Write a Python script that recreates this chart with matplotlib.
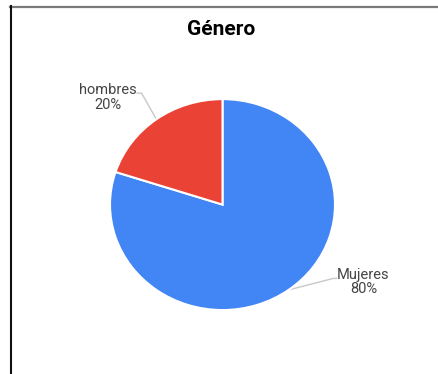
import numpy as np
import matplotlib.pyplot as plt
from matplotlib.lines import Line2D

# data
labels = ['Mujeres', 'hombres']
shares = [80, 20]
colors = ['#4285F4', '#EA4335']
title = 'Género'

# label placement (data coords of the pie axes): elbow point, text anchor, alignment
label_pos = {
    'Mujeres': dict(elbow=(0.985, -0.70), text=(1.02, -0.735), ha='left'),
    'hombres': dict(elbow=(-0.72, 1.057), text=(-0.765, 1.014), ha='right'),
}

plt.rcParams['font.family'] = ['Roboto', 'DejaVu Sans']

fig = plt.figure(figsize=(4.38, 3.74), dpi=100)
fig.patch.set_facecolor('white')

ax = fig.add_axes([0.187, 0.1005, 0.642, 0.705])
wedges, _ = ax.pie(shares, colors=colors, startangle=90, counterclock=False,
                   wedgeprops=dict(edgecolor='white', linewidth=1.5))
ax.set_aspect('auto')
ax.set_xlim(-1.25, 1.25)
ax.set_ylim(-1.25, 1.25)

total = sum(shares)
for w, lab, val in zip(wedges, labels, shares):
    mid = np.deg2rad((w.theta1 + w.theta2) / 2)
    edge = (np.cos(mid), np.sin(mid))
    p = label_pos[lab]
    tx, ty = p['text']
    ex, ey = p['elbow']
    ax.plot([edge[0], ex, tx], [edge[1], ey, ey], color='#c8c8c8', lw=1.0,
            solid_capstyle='butt', zorder=0, clip_on=False)
    ax.text(tx, ty, f'{lab}\n{val / total:.0%}', ha=p['ha'], va='center',
            multialignment='center', fontsize=10.5, color='#444444',
            linespacing=1.05)

fig.text(0.504, 0.92, title, ha='center', va='center', fontsize=15,
         fontweight='bold', color='black')

# page frame lines from the screenshot
fig.add_artist(Line2D([10 / 438, 1.0], [1 - 6.5 / 374, 1 - 6.5 / 374],
                      color='#7a7a7a', lw=1.6, transform=fig.transFigure))
fig.add_artist(Line2D([10.5 / 438, 10.5 / 438], [0, 1 - 6 / 374],
                      color='#111111', lw=1.5, transform=fig.transFigure))

fig.savefig('out.png', dpi=100, facecolor='white')
